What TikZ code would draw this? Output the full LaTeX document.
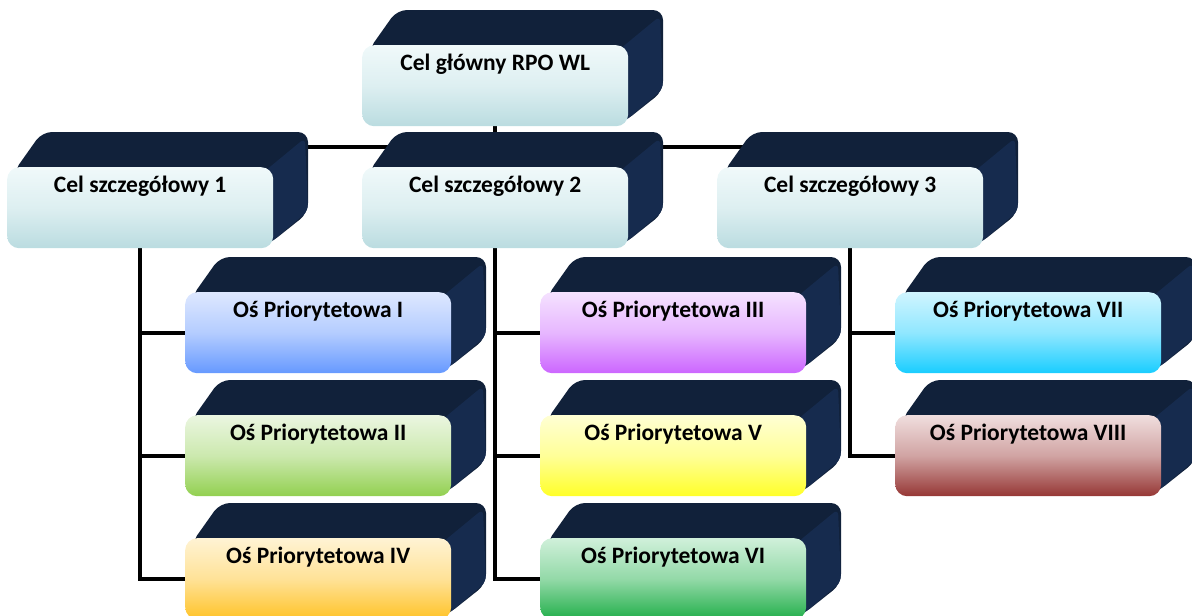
\documentclass[tikz,border=0pt]{standalone}
\usepackage{fontspec}
\setmainfont{Carlito}
\usetikzlibrary{positioning}
\pgfdeclarelayer{background}
\pgfsetlayers{background,main}

\definecolor{navytop}{RGB}{17,33,58}
\definecolor{navyside}{RGB}{22,43,78}
\definecolor{celtop}{RGB}{240,249,250}
\definecolor{celbot}{RGB}{186,220,224}
\definecolor{osItop}{RGB}{222,232,255}
\definecolor{osIbot}{RGB}{102,153,255}
\definecolor{osIItop}{RGB}{235,246,225}
\definecolor{osIIbot}{RGB}{146,208,80}
\definecolor{osIIItop}{RGB}{245,226,255}
\definecolor{osIIIbot}{RGB}{204,102,255}
\definecolor{osIVtop}{RGB}{255,243,212}
\definecolor{osIVbot}{RGB}{255,195,40}
\definecolor{osVtop}{RGB}{255,255,212}
\definecolor{osVbot}{RGB}{255,255,40}
\definecolor{osVItop}{RGB}{208,240,218}
\definecolor{osVIbot}{RGB}{35,175,75}
\definecolor{osVIItop}{RGB}{208,245,255}
\definecolor{osVIIbot}{RGB}{25,205,255}
\definecolor{osVIIItop}{RGB}{240,222,222}
\definecolor{osVIIIbot}{RGB}{150,55,53}

\begin{document}
\begin{tikzpicture}[x=1pt, y=-1pt,
	front/.style={rounded corners=12pt, minimum width=266pt, minimum height=81pt, inner sep=0pt, text height=25pt, text depth=56pt, font=\fontsize{23.5}{27}\selectfont\bfseries, anchor=north west},
	conn/.style={line width=4pt, black}]
	
		\newcommand{\Wb}{266}
		\newcommand{\Hb}{81}
		\newcommand{\Db}{35}
		% name, x, y, top colour, bottom colour, text
		\newcommand{\cube}[6]{%
			\fill[navytop, rounded corners=10pt] (#2+6,#3+6) -- (#2+\Db,#3-\Db) -- (#2+\Wb+\Db,#3-\Db) -- (#2+\Wb+\Db,#3+\Hb-\Db) -- (#2+\Wb-4,#3+\Hb-4) -- cycle;
			\fill[navyside, rounded corners=6pt] (#2+\Wb-8,#3+4) -- (#2+\Wb+\Db-3,#3-\Db+6) -- (#2+\Wb+\Db,#3+\Hb-\Db-2) -- (#2+\Wb-4,#3+\Hb-4) -- cycle;
			\node[front, top color=#4, bottom color=#5, middle color=#4!65!#5] (#1) at (#2,#3) {#6};
		}
		\useasboundingbox (0,0) rectangle (1192,616);
		
	\cube{main}{362}{45}{celtop}{celbot}{Cel główny RPO WL}
	
	\cube{c1}{7}{167}{celtop}{celbot}{Cel szczegółowy 1}
	\cube{c2}{362}{167}{celtop}{celbot}{Cel szczegółowy 2}
	\cube{c3}{717}{167}{celtop}{celbot}{Cel szczegółowy 3}
	
	\cube{o1}{185}{292}{osItop}{osIbot}{Oś Priorytetowa I}
	\cube{o2}{185}{415}{osIItop}{osIIbot}{Oś Priorytetowa II}
	\cube{o4}{185}{538}{osIVtop}{osIVbot}{Oś Priorytetowa IV}
	
	\cube{o3}{540}{292}{osIIItop}{osIIIbot}{Oś Priorytetowa III}
	\cube{o5}{540}{415}{osVtop}{osVbot}{Oś Priorytetowa V}
	\cube{o6}{540}{538}{osVItop}{osVIbot}{Oś Priorytetowa VI}
	
	\cube{o7}{895}{292}{osVIItop}{osVIIbot}{Oś Priorytetowa VII}
	\cube{o8}{895}{415}{osVIIItop}{osVIIIbot}{Oś Priorytetowa VIII}
	
	\begin{pgfonlayer}{background}
		\path (main.south) ++(0,21) coordinate (hub);
		\draw[conn] (main.south) -- (hub);
		\draw[conn] (hub) -| (c1.north);
		\draw[conn] (hub) -| (c3.north);
		\draw[conn] (hub) -- (c2.north);
		\foreach \c/\o in {c1/o1, c1/o2, c1/o4, c2/o3, c2/o5, c2/o6, c3/o7, c3/o8}
			\draw[conn] (\c.south) |- (\o.west);
	\end{pgfonlayer}
	
\end{tikzpicture}
\end{document}
